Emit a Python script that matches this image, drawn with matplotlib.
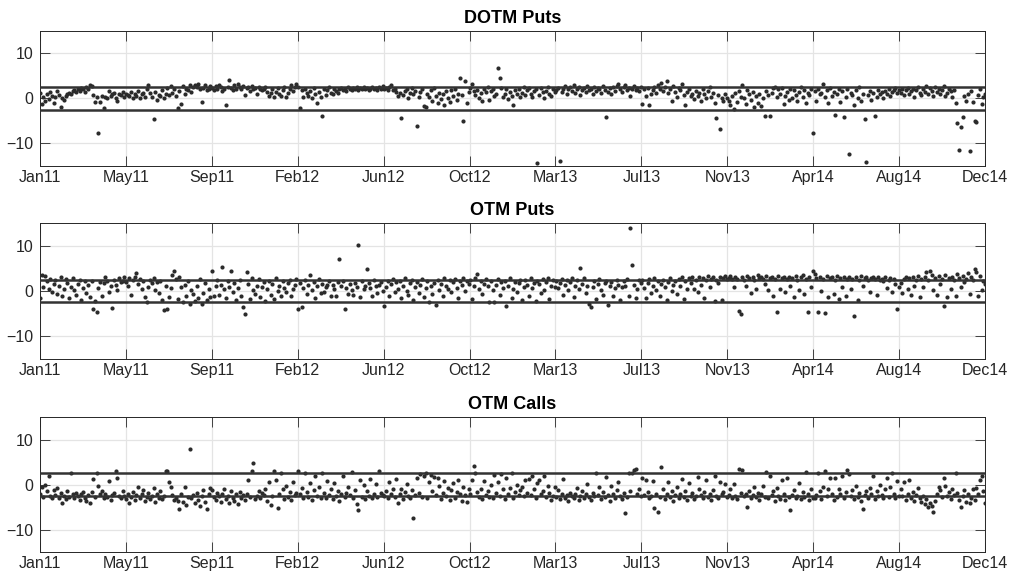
import numpy as np
import matplotlib
matplotlib.use("Agg")
import matplotlib.pyplot as plt

plt.rcParams['font.family'] = ['Liberation Sans', 'DejaVu Sans']

tick_labels = ['Jan11', 'May11', 'Sep11', 'Feb12', 'Jun12', 'Oct12',
               'Mar13', 'Jul13', 'Nov13', 'Apr14', 'Aug14', 'Dec14']
titles = ['DOTM Puts', 'OTM Puts', 'OTM Calls']
band = 2.5

# statistics, in date order (about 50 per tick interval)
dotm_puts = [
    1.2, -1.3, 0.4, -0.6, 0.9, -0.2, 1.5, 0.6, -0.9, 0.3,
    1.6, 0.7, -1.8, 0.2, -0.4, 0.5, 1.0, 1.3, 1.1, 1.6,
    1.8, 1.4, 2.1, 1.7, 2.4, 2.0, 1.5, 2.6, 2.2, 2.9,
    2.7, 0.7, -0.8, 0.3, -7.6, -0.7, 0.5, -2.1, 0.4, 0.1,
    1.7, 0.6, 0.9, 1.3, 0.2, -0.5, 1.0, 0.8, 1.5, 0.4,
    1.1, 0.8, 0.5, 1.4, 0.2, 1.0, 0.6, 1.6, 0.1, 0.9,
    1.3, 0.3, 2.0, 3.0, 1.2, 0.4, -4.6, 1.5, -0.3, 0.8,
    0.5, 1.9, 0.0, 1.1, 2.4, 0.7, 2.8, 1.3, 2.1, 0.6,
    -2.2, 1.6, -1.2, 2.7, 0.9, 2.2, 1.8, 2.9, 1.4, 2.5,
    3.1, 2.6, 3.3, 2.0, -0.8, 2.4, 2.9, 1.9, 2.2, 2.7,
    2.3, 1.8, 2.8, 2.1, 3.0, 2.5, 1.7, 2.2, -1.5, 2.6,
    4.0, 2.4, 1.9, 2.9, 2.2, 3.2, 2.6, 2.0, 2.8, 0.8,
    2.3, 2.5, 1.6, 2.7, 2.1, 2.4, 0.9, 2.6, 2.0, 1.8,
    2.2, 2.5, 1.4, 0.5, 1.2, 2.0, 0.3, 1.5, 2.4, 1.0,
    0.6, 1.9, 2.6, 0.4, 1.3, 2.2, 3.0, 1.7, 2.5, 3.2,
    2.6, -2.2, 1.8, 0.3, 2.1, 1.2, 0.6, 1.7, 0.1, 2.3,
    1.0, -1.1, 1.5, 0.4, -4.0, 2.2, 0.8, 1.9, 2.5, 1.3,
    0.9, 2.0, 1.6, 1.2, 2.2, 2.4, 1.9, 2.1, 1.7, 2.5,
    2.2, 1.8, 2.4, 2.0, 2.6, 1.9, 2.3, 2.1, 2.5, 2.0,
    2.4, 1.8, 2.2, 2.6, 2.0, 2.3, 1.9, 2.5, 2.1, 2.7,
    2.1, 2.4, 1.8, 2.6, 3.0, 1.9, 2.2, 1.5, 0.5, 1.2,
    -4.3, 0.8, 1.6, 2.0, 0.2, 1.3, 2.3, 0.9, 1.7, -6.2,
    0.4, 1.5, 2.2, -1.6, -2.0, 1.0, 0.3, 1.8, -0.5, 2.4,
    0.6, -1.0, 1.2, -0.2, 0.9, -1.5, 1.6, 0.1, -0.8, 1.9,
    0.5, 2.2, -0.4, 1.1, 4.5, 0.7, -4.9, 3.9, -0.9, 1.4,
    2.3, 3.3, 1.6, 0.8, 1.9, 0.2, 1.2, -0.5, 2.0, 1.4,
    2.5, -0.4, 1.7, 2.2, 0.6, 1.0, 6.8, 4.6, 2.4, 0.3,
    1.1, 2.1, -0.2, 1.5, 0.5, -1.5, 1.8, 0.9, 2.2, 0.4,
    1.3, 2.6, 0.7, 1.9, 2.4, 1.0, 0.3, 1.6, 2.1, -14.3,
    0.8, 2.3, 1.4, 0.2, 1.7, 2.5, 1.1, 0.6, 2.0, 1.5,
    1.9, 2.4, -13.8, 1.5, 2.2, 2.7, 1.0, 2.0, 2.5, 1.7,
    2.9, 1.3, 2.1, 2.6, 0.8, 1.8, 2.3, 1.4, 2.8, 1.9,
    2.2, 1.1, 2.6, 1.6, 2.4, 2.0, 1.2, 2.7, 1.8, -4.1,
    1.5, 2.3, 0.9, 2.5, 1.7, 2.8, 3.2, 2.0, 1.4, 2.6,
    3.0, 1.8, 2.4, 0.6, 2.1, 2.7, 1.9, 2.3, 1.6, 2.5,
    -1.2, 2.0, 0.5, 2.4, -1.5, 1.1, 1.8, 2.6, 1.3, 2.9,
    2.2, 3.4, 1.6, 2.5, 3.9, 1.2, 2.1, -0.6, 2.7, 1.4,
    0.3, 2.3, 1.8, 3.2, 0.8, -1.5, 1.5, 2.0, 0.5, 1.1,
    -0.2, 1.7, 0.6, 1.3, -0.5, 2.2, 0.9, 0.1, 1.6, 2.6,
    0.4, 1.2, -1.0, -4.3, 0.7, -6.8, 0.2, -0.6, 0.9, 0.0,
    -0.5, -1.4, 0.6, -2.4, 1.2, -0.8, 1.6, 0.3, 2.9, 0.0,
    -1.2, 1.8, 0.9, -0.3, 1.4, -2.0, 0.5, -0.9, 1.0, -1.6,
    0.2, -3.8, 1.7, 0.8, -3.8, 1.3, 2.4, 2.6, 0.4, 2.1,
    1.0, 2.3, -1.2, 0.6, 1.5, -0.4, 2.2, 0.1, 1.8, 0.7,
    -0.6, 1.4, 2.5, 0.3, 1.9, -1.1, 1.2, 0.8, 2.0, -7.6,
    1.6, -0.5, 2.2, 0.9, 1.3, 3.3, 0.4, 1.9, -1.0, 2.4,
    0.6, 1.5, -3.7, 1.1, 2.0, -0.8, 1.7, -4.2, 0.3, 2.2,
    -12.3, 1.2, 0.7, -1.5, 1.8, 0.1, 2.5, -0.6, 1.0, -4.6,
    -14.0, 0.8, 1.6, -0.3, 1.3, -4.0, 0.4, 1.9, 0.9, 1.4,
    0.2, 1.7, 1.1, 2.0, 0.6, 1.5, 1.9, 2.3, 1.2, 1.8,
    1.3, 2.1, 0.7, 1.8, 2.4, 1.0, 1.6, 2.2, 0.4, 1.9,
    2.5, 1.2, 0.8, 2.0, 1.5, 2.7, 1.1, 2.3, 1.7, 0.5,
    2.6, 1.4, 2.1, 0.9, 1.8, 2.8, 0.6, 1.3, 2.2, 1.6,
    0.3, 1.9, -1.0, -5.4, -11.5, -6.3, -4.2, 0.5, -0.5, 1.1,
    -11.6, 1.7, -0.8, -5.0, -5.3, 0.8, 2.0, -1.2, 0.4, 1.0,
]

otm_puts = [
    -1.5, 3.5, 0.8, 3.4, 2.2, 0.5, 2.7, -0.3, 1.6, 2.5,
    -0.6, 1.2, 3.1, -1.2, 0.4, 2.6, 1.8, -1.6, 0.9, 2.9,
    0.2, -0.8, 1.5, 2.4, -1.9, 0.7, 2.1, -0.4, 1.3, -1.4,
    2.3, -4.0, -2.2, -4.6, 0.6, 2.0, -1.0, 1.7, 3.1, 2.2,
    -0.2, 1.0, -3.7, 2.5, 1.4, 0.3, 2.8, 1.9, 2.3, 3.0,
    2.0, 1.2, 2.8, -0.9, 2.4, 3.2, 4.0, 1.5, 2.6, 0.4,
    2.1, -1.3, -2.5, 0.9, 2.5, 1.7, 2.9, 0.2, 1.9, -0.5,
    2.3, -1.9, -4.2, 1.1, -4.0, -1.4, 0.6, 3.5, 4.5, 2.7,
    -1.8, 3.0, 0.8, -2.4, 1.4, -1.1, 2.2, -2.8, 0.3, -0.7,
    -2.2, 1.0, -1.6, 2.6, -2.9, -0.4, 1.8, -1.9, 0.5, -1.3,
    4.4, -1.2, 1.0, 2.5, -0.8, 1.3, 5.2, 0.4, -1.5, 2.2,
    0.9, 4.5, -0.2, 1.8, -2.0, 0.6, 2.4, -1.1, -3.5, -5.1,
    4.2, 1.6, -1.7, 2.8, 0.2, -0.6, 1.2, 2.6, -1.4, 0.8,
    1.9, -2.3, 0.5, 2.1, -0.9, 1.5, -1.8, 2.9, 0.1, 1.1,
    -1.2, 2.3, 0.7, -0.3, 1.7, 2.5, -1.0, 0.4, 1.4, 2.7,
    -4.0, 1.8, -3.5, 0.6, 2.4, -0.7, 1.3, 3.5, 0.2, 2.0,
    -1.5, 1.0, 2.6, -0.4, 1.6, -0.2, 0.8, 1.4, 2.2, -1.0,
    1.4, 0.4, -1.2, 1.9, 7.0, 1.1, 2.3, -4.0, 0.7, -0.6,
    1.5, 0.3, -0.8, 1.8, 0.9, 10.1, -1.4, 2.1, 0.5, 1.2,
    4.9, 1.7, 0.6, -1.1, 2.4, 1.0, -0.5, 1.3, 2.0, 0.1,
    -3.2, 0.8, 2.1, -1.0, 1.5, 2.6, -0.3, 1.9, 0.4, 2.3,
    -1.6, 1.2, 2.8, 0.1, -0.8, 1.7, 2.4, -1.9, 0.9, 2.0,
    -0.5, 1.4, 2.7, -1.3, 0.6, 2.2, -2.4, 1.0, -0.7, 1.8,
    -3.1, 2.5, 0.3, 1.6, -1.2, 2.9, 1.1, 0.5, 2.4, -0.2,
    1.9, 2.6, 0.7, -1.5, 2.1, 1.3, 2.8, 0.0, 2.3, 1.5,
    2.5, -1.8, 1.2, 2.9, 3.8, 0.5, 2.2, -0.6, 1.6, 2.7,
    1.0, -2.4, 2.1, 0.3, -2.5, 1.4, 2.6, -0.9, 1.9, 0.7,
    2.3, -3.3, 1.1, 2.8, -1.5, 0.4, 2.0, -0.3, 1.7, 2.5,
    -2.0, 0.9, 2.4, 1.3, -1.1, 2.8, 0.6, 1.8, -2.3, 2.2,
    1.5, -0.5, 2.6, 0.2, 1.9, 2.9, -1.7, 1.2, 2.4, 0.8,
    2.3, 0.7, 1.8, 2.7, -0.8, 1.4, 2.5, 0.2, 1.9, 2.8,
    -1.4, 1.1, 2.4, 0.5, 5.0, 1.6, 2.9, -0.5, 1.2, -2.8,
    -3.5, 0.9, 2.2, -1.8, 1.5, 2.6, 0.3, -0.9, 1.7, 2.3,
    -3.0, 1.0, 2.0, -1.2, 0.6, 2.5, 1.3, -2.0, 0.8, 2.1,
    1.2, 2.6, -1.1, 14.0, 5.8, 1.4, -1.6, 0.4, 2.4, 1.8,
    2.4, 0.6, -1.5, 1.8, 2.7, -0.4, 1.2, 2.9, 0.3, 2.1,
    -1.2, 1.6, 2.5, 0.8, -2.0, 1.9, 2.8, 0.1, 1.4, 2.3,
    -0.7, 2.6, 1.1, 3.0, -1.8, 2.2, 0.5, 2.9, 1.7, 3.1,
    0.4, 2.5, -0.3, 3.2, 1.3, 2.8, -1.6, 2.4, 3.3, 0.9,
    2.7, 3.0, -2.2, 2.5, 1.8, 3.2, -1.9, 2.9, 3.4, 2.6,
    2.9, 3.3, 2.6, 0.8, 3.1, 2.7, -4.5, -5.0, 3.0, 2.4,
    1.2, 3.4, 2.8, -0.5, 3.2, 2.5, 0.4, 3.5, 2.9, 3.1,
    2.6, 1.5, 3.3, 0.3, 2.8, 3.0, -1.0, 2.7, -4.6, 3.4,
    0.5, 2.9, 3.2, -0.2, 2.6, 3.1, 1.0, 2.8, -1.3, 3.3,
    2.5, 0.2, 3.0, 3.6, -0.6, 2.7, -4.6, 3.2, 0.9, 4.5,
    3.8, 2.9, -4.6, 3.2, 0.1, 2.6, -4.9, 3.4, -1.4, 2.8,
    3.1, -0.6, 2.5, 3.3, -1.7, 2.9, 0.8, 3.0, -1.2, 2.6,
    3.2, 0.4, 2.7, -5.5, 3.0, -1.9, 2.4, 3.3, 1.1, 2.8,
    3.1, 2.5, -0.3, 2.9, 3.2, 2.6, -0.8, 3.0, 2.4, 2.7,
    2.2, 3.1, 0.6, 2.5, 2.9, -0.2, 2.6, 1.5, -4.0, 0.9,
    1.8, -0.5, 2.6, 3.0, 0.4, 2.8, -0.9, 3.2, 1.2, 2.5,
    3.4, -1.3, 2.7, 0.9, 3.1, 4.2, 2.4, 4.5, 3.6, 0.2,
    2.9, -0.8, 3.3, 1.6, 2.6, -3.2, 3.5, -1.4, 2.8, 0.5,
    3.2, 2.4, -1.0, 3.7, 2.9, 0.8, 3.4, 1.9, 2.7, 4.0,
    -0.6, 3.1, 2.5, 4.8, 4.3, -1.2, 3.3, 0.3, 2.2, 1.5,
]

otm_calls = [
    -2.0, -0.5, -2.8, 0.0, -1.5, 2.0, -2.6, -3.1, -1.2, -2.3,
    -0.8, -2.9, -1.8, -4.0, -2.5, -3.3, -1.5, -2.7, 2.6, -2.1,
    -3.0, -1.9, -2.6, -3.4, -2.2, -1.6, -2.9, -3.6, -2.4, -4.0,
    -1.7, 1.3, -2.8, 2.5, -0.3, -2.2, -1.5, -3.1, -2.0, -2.7,
    0.7, -3.4, -2.3, -1.8, 3.0, 1.5, -2.6, -3.0, -1.4, -2.5,
    -3.2, -2.1, -4.0, -2.7, -1.6, -3.5, -2.4, -0.5, -3.0, -2.2,
    -1.3, -3.6, -2.8, -1.9, -3.3, -2.5, -0.8, -3.9, -2.0, -2.9,
    -1.5, -3.2, -2.6, 3.1, 3.0, 0.5, -0.5, -2.4, -3.4, -2.9,
    -3.6, -5.5, -2.1, -3.8, -0.5, -4.5, -2.8, 8.0, -3.1, -2.4,
    -4.2, -1.8, -3.5, -4.8, -2.6, -1.2, -3.9, -5.5, -2.2, -0.8,
    -1.2, -2.8, -3.4, -1.8, -2.5, -3.9, -2.0, -1.0, -3.2, -2.6,
    -4.2, -1.5, -2.9, -3.6, -2.2, -4.4, -1.7, -3.0, -2.4, -3.5,
    -2.1, 1.0, -2.8, 3.0, 4.8, -3.3, -2.5, -1.4, -3.1, -1.9,
    -2.3, -0.9, -3.7, 0.5, -4.5, -2.6, 3.0, 1.0, -5.3, -2.0,
    2.5, -1.1, -3.2, -0.4, -2.7, -1.6, -3.4, 0.6, -2.3, -1.8,
    3.0, -2.2, -0.8, -3.1, 2.5, -1.6, -2.7, 0.3, -3.4, -1.2,
    2.0, -2.5, -0.5, -3.0, 2.5, -1.8, -2.9, 0.8, -2.3, -1.0,
    -3.3, 0.4, -2.6, -1.5, -3.7, -2.0, 1.8, -2.8, -1.9, -0.6,
    -2.4, 2.7, -3.1, -1.3, -4.3, -5.6, 0.9, -2.7, -0.2, -3.2,
    -1.5, -2.5, 1.2, -3.0, -2.1, 0.1, -2.7, 3.0, -1.8, -2.4,
    -2.6, -1.4, -3.0, 0.5, -2.2, -1.0, -2.8, 1.2, -4.2, -2.0,
    -0.9, -3.3, -1.7, 0.2, -2.5, -3.1, -1.2, -7.5, -2.4, 1.5,
    -1.8, 2.4, -2.7, 1.8, 2.6, -3.0, 0.6, 2.2, -1.5, 1.7,
    -2.3, 1.4, -0.4, -3.2, -1.9, 0.8, -2.6, -0.8, -3.4, -1.3,
    0.4, -2.9, -1.6, 1.0, -2.1, -3.6, -0.6, -2.4, -3.8, -1.1,
    -2.0, 1.0, 4.1, 2.5, -1.6, -2.8, -0.9, -3.3, 0.8, -2.4,
    -1.4, -2.7, -0.2, -3.0, 2.2, -1.9, 0.6, -2.5, 2.4, -1.1,
    -3.2, 1.5, -2.0, -0.7, 2.6, -2.9, -1.6, 0.0, -2.3, -1.2,
    -0.5, -2.6, 0.9, -1.8, 1.3, -2.4, 1.9, -1.0, -3.1, 0.4,
    1.1, -2.2, -1.5, 2.0, -2.8, -0.3, -1.9, -3.4, -2.6, -0.6,
    -2.7, -1.2, -3.3, -2.0, 1.2, -2.9, -2.4, -3.6, -1.8, -2.6,
    -3.0, -2.2, -0.8, -3.4, -2.5, -1.5, -3.1, -2.0, 0.2, -2.8,
    -3.5, -1.9, -2.6, 2.6, -2.3, -0.5, -3.2, -1.6, -2.8, 1.7,
    -2.4, -3.6, -0.3, -2.1, -2.9, -1.3, 0.5, -2.5, -3.3, -1.9,
    -6.3, -2.7, 2.6, -1.4, 2.5, 3.2, 3.5, -2.2, -0.9, -2.6,
    1.5, -2.4, 1.0, -1.7, -3.1, -2.6, 0.8, -5.3, -2.0, -6.0,
    -2.8, 4.0, -1.1, -3.3, -2.2, 0.5, -2.7, -1.5, -3.6, -2.4,
    -0.6, -3.0, -2.1, 1.2, -2.8, -1.4, -3.4, 0.3, -2.5, -1.9,
    -3.2, -2.6, 1.6, -0.9, -2.3, -3.0, -1.7, 0.9, -2.7, -2.1,
    -3.5, -1.2, 1.9, -2.5, -3.1, 0.6, -2.0, -1.6, 0.1, -2.8,
    -2.3, -1.0, -2.9, 0.2, -2.5, -3.3, 3.5, -1.8, 3.2, -2.6,
    -2.2, -5.0, -1.4, -3.0, -2.4, -0.6, -2.8, -1.9, -3.4, -2.1,
    -0.3, -2.7, 2.8, -3.1, 2.0, -2.3, -1.5, -3.6, -0.8, -2.5,
    -3.2, 1.0, -2.0, -3.5, 1.5, -2.7, -5.6, -2.4, -1.3, -3.0,
    -2.6, 0.4, -3.3, -1.7, -2.8, 2.7, -2.2, -3.4, -1.1, -2.9,
    -3.1, -2.4, 2.5, -1.5, -3.3, -0.5, 3.0, -2.6, -1.0, 1.5,
    -2.2, -3.5, 1.5, -2.8, -0.9, -2.0, 2.0, -3.0, -1.6, 3.3,
    2.4, -2.5, -1.2, -3.2, -0.4, -2.7, -1.8, -3.6, -5.5, -2.3,
    -1.4, -2.9, -0.7, -2.1, 2.0, -3.3, -1.5, -2.6, -0.2, -2.4,
    -3.0, -1.1, 1.5, -2.7, -0.6, 2.5, -2.2, -3.1, 0.8, -2.5,
    -1.0, -2.6, 0.6, -3.4, -2.1, 1.0, -2.9, -1.7, -3.6, -2.3,
    -0.8, -3.1, -3.9, -2.5, -4.4, -3.3, -5.1, -4.0, -4.8, -6.2,
    -3.6, -2.2, -0.5, -1.2, -2.8, 1.5, -0.3, -2.5, -1.6, -3.2,
    -0.9, -2.4, 2.5, -1.8, -3.5, -4.9, -2.6, -1.3, -3.8, -2.0,
    -4.2, -2.9, -1.0, -3.4, -0.7, -2.2, 1.0, 2.0, -1.5, -4.0,
]

series = [dotm_puts, otm_puts, otm_calls]

dark = '#262626'
fig = plt.figure(figsize=(10.14, 5.77), dpi=100)

# axes boxes in figure fractions (left, bottom, width, height)
boxes = [(0.0394, 0.7123, 0.932, 0.234),
         (0.0394, 0.3778, 0.932, 0.2357),
         (0.0394, 0.0433, 0.932, 0.234)]

for box, title, vals in zip(boxes, titles, series):
    ax = fig.add_axes(box)
    y = np.array(vals)
    x = np.arange(len(y))
    ax.scatter(x, y, s=9, color='#2b2b2b', linewidths=0, zorder=3)
    ax.axhline(band, color='#333333', lw=1.8, zorder=4)
    ax.axhline(-band, color='#333333', lw=1.8, zorder=4)

    ax.set_xlim(0, len(y) - 1)
    ax.set_ylim(-15, 15)
    ax.set_xticks(np.linspace(0, len(y) - 1, len(tick_labels)))
    ax.set_xticklabels(tick_labels)
    ax.set_yticks([-10, 0, 10])
    ax.grid(True, color='#e4e4e4', lw=0.9, zorder=0)
    ax.set_axisbelow(True)

    ax.tick_params(direction='in', length=7, width=0.6, color=dark,
                   labelcolor=dark, labelsize=11.5, top=True, right=True)
    ax.tick_params(axis='x', pad=3)
    ax.tick_params(axis='y', pad=5)
    for sp in ax.spines.values():
        sp.set_color(dark)
        sp.set_linewidth(0.7)
    ax.set_title(title, fontsize=13, fontweight='bold', color='black', pad=6)

fig.savefig('out.png', dpi=100)
